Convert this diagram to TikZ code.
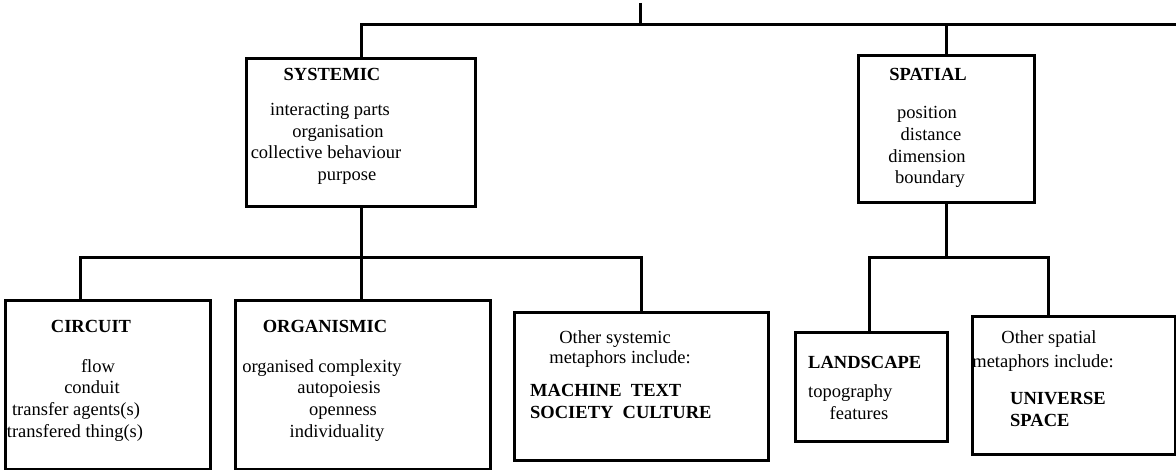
\documentclass[tikz,border=0pt]{standalone}
\usepackage{fontspec}
\setmainfont{Liberation Serif}
\begin{document}
\begin{tikzpicture}[x=1pt,y=-1pt,
  box/.style={draw, line width=3pt, inner sep=0pt, minimum width=#1},
  conn/.style={line width=3pt},
  txt/.style={inner sep=0pt, anchor=base, font=\fontsize{18.5}{21.5}\selectfont},
  btxt/.style={txt, font=\fontsize{18.5}{21.5}\selectfont\bfseries},
]
\useasboundingbox (0,0) rectangle (1176,470);
% boxes
\node[box=229, minimum height=148] (sys) at (361,133) {};
\node[box=176, minimum height=147] (sp) at (946.5,129.5) {};
\node[box=205, minimum height=168] (circ) at (107.5,385) {};
\node[box=255, minimum height=168] (org) at (362.5,385) {};
\node[box=254, minimum height=147] (osys) at (641,386.5) {};
\node[box=152, minimum height=108] (land) at (871,387) {};
\node[box=203, minimum height=137] (osp) at (1073.5,385.5) {};
% connector coordinates
\coordinate (tick) at (640,3);
\coordinate (tr) at (1176,25);
\coordinate (bl) at (80,258);
\coordinate (br) at (1048,258);
% top bus
\draw[conn] (sys.north) |- (tr);
\draw[conn] (sp.north) -- (sp.north |- tr);
\draw[conn] (tick) -- (tick |- tr);
% systemic bus
\draw[conn] (sys.south) -- (sys.south |- bl);
\draw[conn] (bl |- circ.north) -- (bl) -| (osys.north);
\draw[conn] (org.north -| sys.south) -- (sys.south |- bl);
% spatial bus
\draw[conn] (sp.south) -- (sp.south |- br);
\draw[conn] (land.north -| 869,0) |- (br) -- (br |- osp.north);
% texts
\node[btxt] (t1) at (332,81) {SYSTEMIC};
\node[txt] (t2) at (330,116) {interacting parts};
\node[txt] (t3) at (338,138) {organisation};
\node[txt] (t4) at (326,159) {collective behaviour};
\node[txt] (t5) at (347,181) {purpose};
\node[btxt] (s1) at (928,81) {SPATIAL};
\node[txt] (s2) at (927,119) {position};
\node[txt] (s3) at (931,141) {distance};
\node[txt] (s4) at (927,163) {dimension};
\node[txt] (s5) at (930,184) {boundary};
\node[btxt] (c1) at (91,333) {CIRCUIT};
\node[txt] (c2) at (98,373) {flow};
\node[txt] (c3) at (92,394) {conduit};
\node[txt] (c4) at (76,415) {transfer agents(s)};
\node[txt] (c5) at (75,437) {transfered thing(s)};
\node[btxt] (o1) at (325,333) {ORGANISMIC};
\node[txt] (o2) at (322,373) {organised complexity};
\node[txt] (o3) at (339,394) {autopoiesis};
\node[txt] (o4) at (343,415) {openness};
\node[txt] (o5) at (337,437) {individuality};
\node[txt] (m1) at (615,344) {Other systemic};
\node[txt] (m2) at (620,364) {metaphors include:};
\node[btxt, anchor=base west] (m3) at (530,396) {MACHINE\ \ TEXT};
\node[btxt, anchor=base west] (m4) at (530,418) {SOCIETY\ \ CULTURE};
\node[btxt, anchor=base west] (l1) at (808,369) {LANDSCAPE};
\node[txt, anchor=base west] (l2) at (808,398) {topography};
\node[txt] (l3) at (859,419) {features};
\node[txt] (p1) at (1049,344) {Other spatial};
\node[txt] (p2) at (1043,368) {metaphors include:};
\node[btxt, anchor=base west] (p3) at (1010,404) {UNIVERSE};
\node[btxt, anchor=base west] (p4) at (1010,426) {SPACE};
\end{tikzpicture}
\end{document}
